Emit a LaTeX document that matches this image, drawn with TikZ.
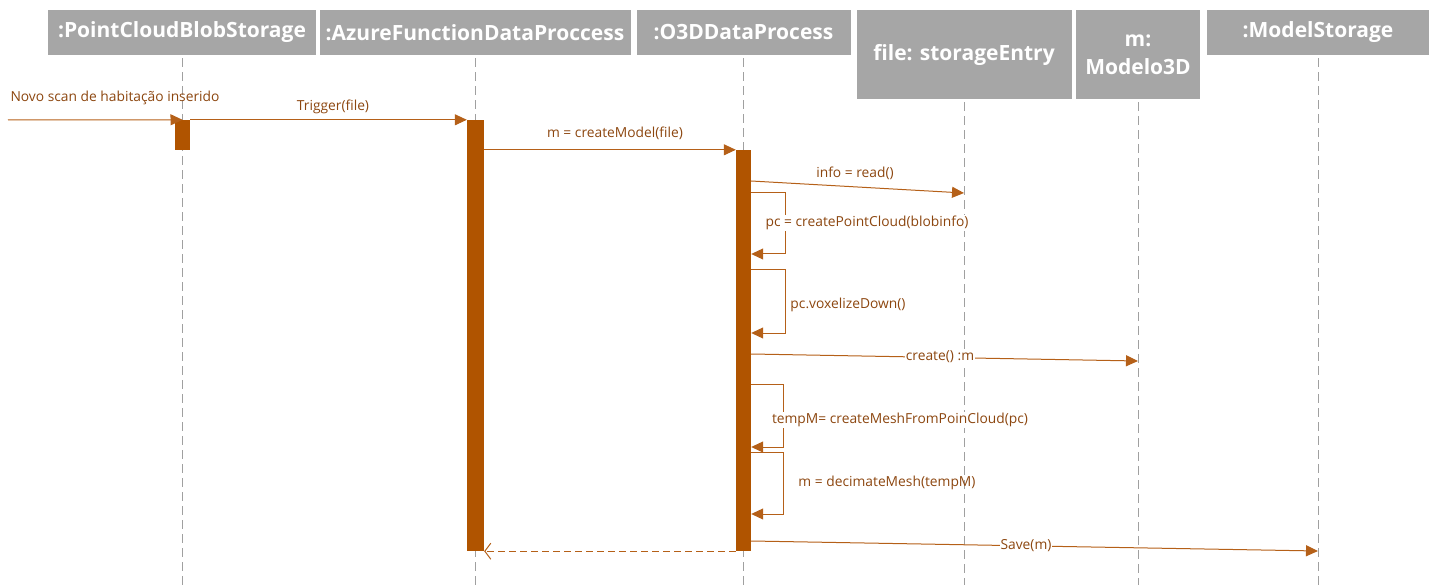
\documentclass[tikz,border=0pt]{standalone}
\usepackage{fontspec}
\setmainfont{Open Sans}
\usetikzlibrary{arrows.meta,calc}
\definecolor{hdrgray}{RGB}{166,166,166}
\definecolor{barc}{RGB}{176,84,0}
\definecolor{msgc}{RGB}{181,96,24}
\definecolor{txtc}{RGB}{140,70,15}
\definecolor{lifec}{RGB}{160,160,160}
\begin{document}
\begin{tikzpicture}[x=1pt,y=-1pt,
 hdr/.style={fill=hdrgray, text=white, font=\bfseries\fontsize{21}{28}\selectfont, inner sep=0pt, align=center},
 actbar/.style={fill=barc, draw=none, inner sep=0pt},
 lifeline/.style={draw=lifec, line width=0.8pt, dash pattern=on 9pt off 5pt},
 msg/.style={draw=msgc, line width=1pt, -{Triangle[length=12pt,width=11pt]}},
 ret/.style={draw=msgc, line width=1pt, dash pattern=on 7pt off 4pt, -{Straight Barb[length=6pt,width=16pt]}},
 lbl/.style={text=txtc, font=\fontsize{13.8}{16}\selectfont, inner sep=1pt},
 lblw/.style={lbl, fill=white},
]
\useasboundingbox (0,0) rectangle (1434,585);

% headers
\node[hdr, minimum width=268pt, minimum height=45pt] (h1) at (182,32.5) {:PointCloudBlobStorage};
\node[hdr, minimum width=311pt, minimum height=45pt] (h2) at (475,32.5) {:AzureFunctionDataProccess};
\node[hdr, minimum width=214pt, minimum height=45pt] (h3) at (743.5,32.5) {:O3DDataProcess};
\node[hdr, minimum width=215pt, minimum height=89pt] (h4) at (964,54.5) {file: storageEntry};
\node[hdr, minimum width=124pt, minimum height=89pt] (h5) at (1138,54.5) {m:\\Modelo3D};
\node[hdr, minimum width=222pt, minimum height=45pt] (h6) at (1318,32.5) {:ModelStorage};

% lifelines
\draw[lifeline] ($(h1.south)+(0,3)$) -- (h1.south |- 0,585);
\draw[lifeline] ($(h2.south)+(0,3)$) -- (h2.south |- 0,585);
\draw[lifeline] ($(h3.south)+(0,3)$) -- (h3.south |- 0,585);
\draw[lifeline] ($(h4.south)+(0,3)$) -- (h4.south |- 0,585);
\draw[lifeline] ($(h5.south)+(0,3)$) -- (h5.south |- 0,585);
\draw[lifeline] ($(h6.south)+(0,3)$) -- (h6.south |- 0,585);

% activation bars
\node[actbar, minimum width=15pt, minimum height=30pt] (a1) at (182.5,135) {};
\node[actbar, minimum width=17pt, minimum height=431pt] (a2) at (475.5,335.5) {};
\node[actbar, minimum width=15pt, minimum height=401pt] (a3) at (743.5,350.5) {};

% messages
\coordinate (src) at (8,120);
\draw[msg] (src) -- (a1.north);
\node[lbl] (t0) at (115,98) {Novo scan de habitação inserido};

\draw[msg] (a1.north east) -- (a2.north west);
\node[lbl] (t1) at (333,107) {Trigger(file)};

\draw[msg] (a2.east |- a3.north) -- (a3.north west);
\node[lbl] (t2) at (615,133) {m = createModel(file)};

\coordinate (rd) at (964,193);
\draw[msg] (a3.east |- 0,181) -- (rd);
\node[lbl] (t3) at (855,173) {info = read()};

\draw[msg] (a3.east |- 0,193) -- (785,193) -- (785,254) -- (a3.east |- 0,254);
\node[lblw] (t4) at (867,223) {pc = createPointCloud(blobinfo)};

\draw[msg] (a3.east |- 0,270) -- (785,270) -- (785,333) -- (a3.east |- 0,333);
\node[lbl] (t5) at (848,305) {pc.voxelizeDown()};

\coordinate (cr) at (1138,361);
\draw[msg] (a3.east |- 0,354) -- (cr);
\node[lblw] (t6) at (940,357) {create() :m};

\draw[msg] (a3.east |- 0,384) -- (783,384) -- (783,447) -- (a3.east |- 0,447);
\node[lblw] (t7) at (900,420) {tempM= createMeshFromPoinCloud(pc)};

\draw[msg] (a3.east |- 0,452) -- (783,452) -- (783,514) -- (a3.east |- 0,514);
\node[lbl] (t8) at (887,483) {m = decimateMesh(tempM)};

\coordinate (sv) at (1318,551);
\draw[msg] (a3.east |- 0,541) -- (sv);
\node[lblw] (t9) at (1026,546) {Save(m)};

\draw[ret] (a3.south west) -- (a2.south east);
\end{tikzpicture}
\end{document}
